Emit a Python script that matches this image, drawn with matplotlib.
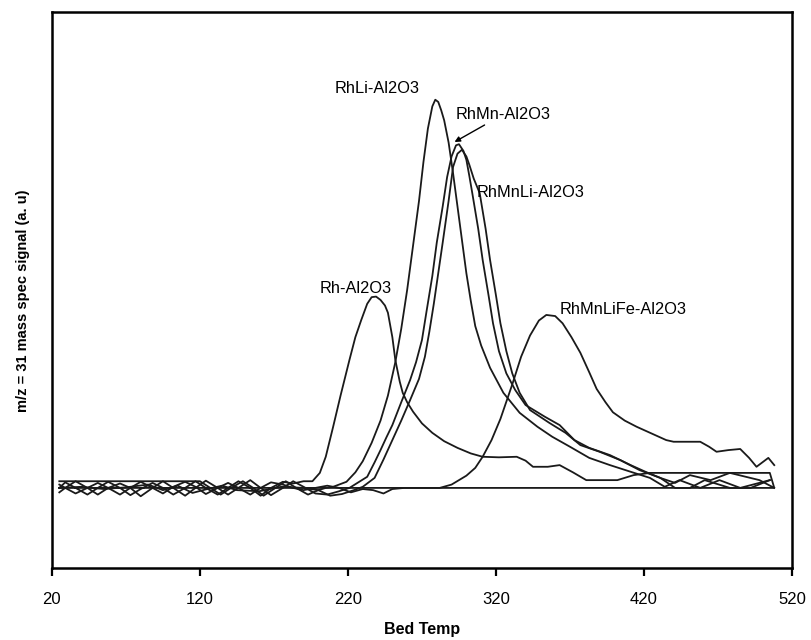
import matplotlib.pyplot as plt

# Bed temperature (x) and m/z = 31 signal (arbitrary units)
rh_t = [25, 29, 36, 44, 51, 58, 66, 73, 80, 88, 95, 102, 110, 117, 124, 132, 139, 146,
        154, 161, 168, 176, 183, 190, 196, 201, 205, 210, 215, 221, 225, 229, 233, 236,
        239, 242, 245, 247, 250, 252, 255, 257, 260, 264, 270, 277, 285, 294, 303, 311,
        322, 334, 340, 345, 355, 363, 372, 381, 392, 402, 413, 424, 440, 460, 480, 505,
        508, 25]
rh_v = [14.4, 15.4, 14.4, 13.2, 14.4, 15.5, 14.4, 13.1, 14.2, 15.3, 14.4, 13.2, 14.4, 15.6,
        14.4, 13.2, 14.4, 15.6, 14.4, 13.0, 14.4, 15.5, 15.2, 15.6, 15.6, 17.1, 20.0, 25.4,
        31.0, 37.4, 41.5, 44.6, 47.5, 48.7, 48.8, 48.2, 47.2, 45.9, 41.5, 37.4, 33.5, 31.5,
        29.8, 28.1, 26.0, 24.3, 22.8, 21.6, 20.6, 20.0, 19.9, 20.0, 19.3, 18.2, 18.2, 18.5,
        17.2, 15.8, 15.8, 15.8, 16.7, 17.1, 17.1, 17.1, 17.1, 17.1, 14.4, 14.4]

rhli_t = [25, 120, 127, 134, 141, 149, 156, 163, 171, 178, 185, 193, 200, 205, 210, 219,
          225, 230, 236, 242, 247, 252, 256, 260, 264, 268, 271, 274, 277, 279, 281, 283,
          285, 288, 291, 294, 297, 300, 303, 306, 310, 316, 325, 336, 348, 358, 370,
          383, 397, 411, 424, 434, 444, 458, 471, 485, 505]
rhli_v = [15.6, 15.6, 14.4, 13.2, 14.4, 15.6, 14.4, 13.0, 14.4, 15.6, 14.4, 13.2, 14.0,
          14.4, 14.6, 15.5, 17.2, 19.2, 22.5, 26.5, 31.0, 37.0, 43.0, 50.0, 58.0, 66.0,
          73.0, 79.0, 83.0, 84.2, 83.8, 82.3, 80.5, 76.5, 71.0, 65.0, 59.0, 53.0,
          48.0, 43.5, 40.0, 36.0, 31.5, 27.9, 25.4, 23.6, 21.8, 19.8, 18.5, 17.3, 16.2,
          14.6, 15.8, 14.4, 15.8, 14.4, 15.8]

rhmn_t = [25, 29, 36, 44, 51, 58, 66, 73, 80, 88, 95, 102, 110, 117, 124, 132, 139, 146,
          154, 161, 168, 176, 183, 190, 198, 206, 214, 221, 227, 233, 238, 242, 246, 250,
          256, 262, 266, 270, 273, 277, 280, 284, 287, 290, 293, 295, 298, 300, 302,
          304, 308, 311, 315, 318, 322, 327, 333, 340, 353, 363, 373, 383, 397, 411, 421,
          431, 441, 451, 465, 478, 498, 508]
rhmn_v = [13.6, 14.4, 15.6, 14.4, 13.2, 14.4, 15.2, 14.4, 12.9, 14.4, 15.6, 14.4, 13.0,
          14.4, 15.7, 14.4, 13.2, 14.4, 15.8, 14.4, 13.1, 14.4, 15.6, 14.6, 13.4, 13.2,
          13.8, 14.4, 15.4, 16.4, 19.0, 21.2, 23.5, 25.7, 29.8, 33.8, 37.0, 41.0,
          46.0, 52.5, 58.5, 65.0, 70.3, 74.0, 76.0, 76.2, 75.0, 73.4, 70.5, 67.4, 61.0,
          55.4, 49.0, 44.0, 39.0, 35.0, 32.0, 29.3, 27.2, 25.7, 23.0, 21.6, 20.3, 18.5,
          17.3, 16.2, 15.3, 16.7, 15.8, 17.1, 15.8, 14.4]

rhmnli_t = [25, 40, 55, 70, 85, 95, 105, 115, 125, 135, 145, 160, 175, 190, 200, 208, 216,
            224, 230, 238, 244, 250, 256, 262, 268, 272, 275, 278, 281, 284, 288, 291, 294,
            297, 300, 302, 305, 309, 313, 316, 320, 323, 327, 331, 336, 343, 356, 367, 377,
            390, 404, 417, 431, 441, 451, 461, 478, 492, 505]
rhmnli_v = [14.4, 14.6, 14.2, 14.5, 15.0, 14.0, 14.8, 13.5, 14.2, 14.8, 14.0, 13.8, 14.6,
            14.4, 14.0, 13.0, 13.3, 14.0, 14.6, 16.2, 19.5, 23.0, 26.5, 30.2, 34.0, 38.0,
            42.5, 47.5, 53.0, 58.5, 66.0, 72.1, 74.5, 75.2, 74.0, 72.5, 70.0, 67.4, 61.0,
            55.4, 49.0, 44.0, 39.0, 35.0, 31.5, 28.4, 26.1, 24.3, 22.1, 20.9, 19.4, 17.6,
            16.2, 14.4, 14.4, 15.8, 14.4, 14.4, 15.8]

rhmnlife_t = [25, 29, 36, 44, 51, 58, 66, 73, 80, 88, 95, 102, 110, 117, 124, 132, 139,
              146, 154, 161, 168, 176, 183, 190, 198, 206, 214, 222, 230, 237, 244, 250,
              258, 270, 282, 290, 300, 306, 311, 317, 323, 331, 337, 343, 349, 354, 360,
              365, 371, 377, 383, 388, 394, 399, 407, 415, 425, 435, 440, 450, 458, 464,
              469, 477, 485, 491, 496, 500, 504, 508]
rhmnlife_v = [15.0, 14.4, 13.4, 14.4, 15.3, 14.4, 13.2, 14.4, 15.5, 14.4, 13.4, 14.6, 15.5,
              14.6, 13.3, 14.4, 15.3, 14.4, 13.2, 14.4, 15.4, 15.0, 14.4, 14.0, 14.4, 14.8,
              14.4, 13.6, 14.2, 14.0, 13.4, 14.2, 14.4, 14.4, 14.4, 15.0, 16.6, 18.0, 20.0,
              23.0, 26.8, 33.0, 38.0, 41.8, 44.5, 45.5, 45.3, 44.0, 41.5, 38.7, 35.2,
              32.2, 29.8, 28.0, 26.5, 25.4, 24.2, 23.0, 22.7, 22.7, 22.7, 21.8, 20.9,
              21.2, 21.4, 19.8, 18.2, 19.0, 19.8, 18.5]

x_ticks = [20, 120, 220, 320, 420, 520]

fig = plt.figure(figsize=(8.11, 6.4), dpi=100)
ax = fig.add_axes([0.064, 0.1125, 0.9126, 0.869])

line_kw = dict(color='#1a1a1a', lw=1.3)
ax.plot(rh_t, rh_v, **line_kw)
ax.plot(rhli_t, rhli_v, **line_kw)
ax.plot(rhmn_t, rhmn_v, **line_kw)
ax.plot(rhmnli_t, rhmnli_v, **line_kw)
ax.plot(rhmnlife_t, rhmnlife_v, **line_kw)

font = 'Liberation Sans'
fs = 11.8
ax.text(211, 86.3, 'RhLi-Al2O3', fontsize=fs, family=font, va='center')
ax.annotate('RhMn-Al2O3', xy=(292, 76.6), xytext=(292.5, 81.5), fontsize=fs,
            family=font, va='center',
            arrowprops=dict(arrowstyle='-|>', color='black', lw=1, mutation_scale=8,
                            shrinkA=0, shrinkB=0))
ax.text(307, 67.6, 'RhMnLi-Al2O3', fontsize=fs, family=font, va='center')
ax.text(201, 50.2, 'Rh-Al2O3', fontsize=fs, family=font, va='center')
ax.text(363, 46.4, 'RhMnLiFe-Al2O3', fontsize=fs, family=font, va='center')

ax.set_xlim(20, 520)
ax.set_ylim(0, 100)
ax.set_xticks(x_ticks)
ax.set_xticklabels([str(t) for t in x_ticks], family=font, fontsize=12)
ax.set_yticks([])
ax.tick_params(axis='x', direction='out', length=6, width=1.6, pad=11)
for s in ax.spines.values():
    s.set_linewidth(1.8)

ax.set_xlabel('Bed Temp', family=font, fontsize=11.5, fontweight='bold', labelpad=11)
ax.set_ylabel('m/z = 31 mass spec signal (a. u)', family=font, fontsize=10.5,
              fontweight='bold')
ax.yaxis.set_label_coords(-0.03, 0.48)

fig.savefig('out.png', dpi=100)
